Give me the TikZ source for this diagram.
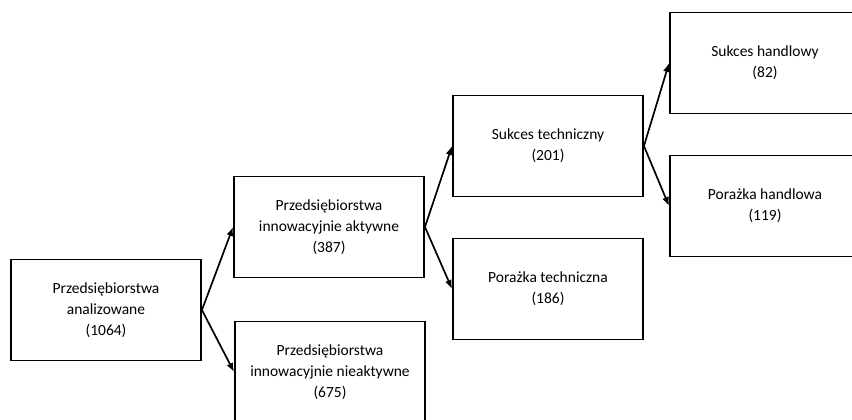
\documentclass[tikz,border=0pt]{standalone}
\usepackage{fontspec}
\setmainfont{Carlito}
\usetikzlibrary{arrows.meta}
\tikzset{box/.style={draw, line width=1.9pt, minimum width=190pt, minimum height=101pt, align=center, inner sep=2pt, font=\fontsize{15.5}{21}\selectfont}}

\begin{document}
\begin{tikzpicture}[x=1pt, y=-1pt, >={Latex[length=9pt,width=7pt]}]
    \useasboundingbox (0,0) rectangle (852,420);
    \clip (0,0) rectangle (852,420);
    \node[box] (all) at (106,310) {Przedsiębiorstwa\\analizowane\\(1064)};
    \node[box] (act) at (329,227) {Przedsiębiorstwa\\innowacyjnie aktywne\\(387)};
    \node[box] (inact) at (330,372) {Przedsiębiorstwa\\innowacyjnie nieaktywne\\(675)};
    \node[box] (tsucc) at (548,146) {Sukces techniczny\\(201)};
    \node[box] (tfail) at (548,289) {Porażka techniczna\\(186)};
    \node[box] (hsucc) at (765,63) {Sukces handlowy\\(82)};
    \node[box] (hfail) at (765,206) {Porażka handlowa\\(119)};
    \draw[->, line width=1.7pt] (all.east) -- (act.west);
    \draw[->, line width=1.7pt] (all.east) -- (inact.west);
    \draw[->, line width=1.7pt] (act.east) -- (tsucc.west);
    \draw[->, line width=1.7pt] (act.east) -- (tfail.west);
    \draw[->, line width=1.7pt] (tsucc.east) -- (hsucc.west);
    \draw[->, line width=1.7pt] (tsucc.east) -- (hfail.west);
\end{tikzpicture}
\end{document}
